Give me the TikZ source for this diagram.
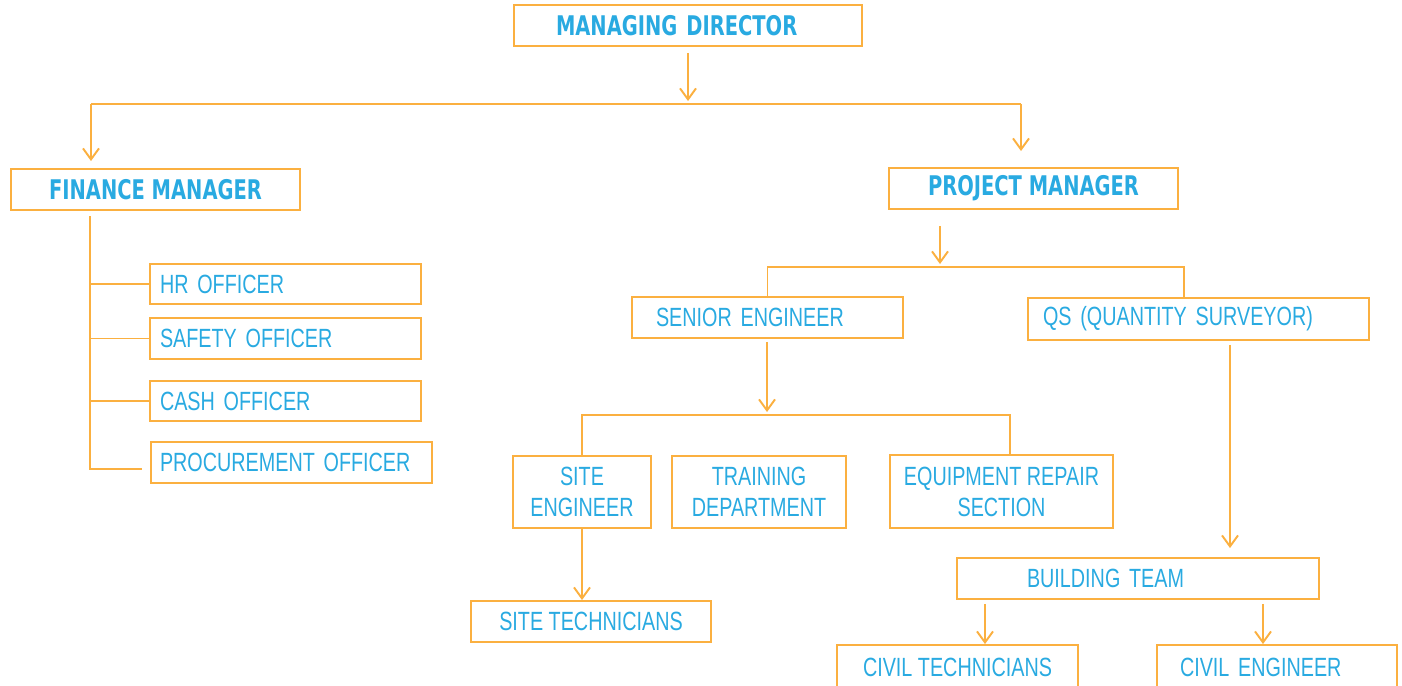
\documentclass[tikz,border=0pt]{standalone}
\usepackage{fontspec}
\setmainfont[FakeStretch=0.75]{Liberation Sans}
\newfontfamily\headfont[FakeStretch=0.72]{DejaVu Sans}
\usetikzlibrary{arrows.meta}
\definecolor{boxorange}{RGB}{251,176,64}
\definecolor{txtblue}{RGB}{41,170,225}
\hyphenpenalty=10000

\begin{document}
\begin{tikzpicture}[x=0.1mm, y=-0.1mm, line width=0.55pt, color=boxorange,
    box/.style={draw=boxorange, text=txtblue, inner sep=0pt, minimum height=4.1mm,
      font=\fontsize{7.5}{8.8}\selectfont},
    head/.style={box, font=\headfont\bfseries\fontsize{7.7}{9}\selectfont},
    officer/.style={box, minimum width=27.1mm, text width=25.1mm, inner xsep=1mm, align=left},
    arr/.style={-{Straight Barb[length=1.1mm, width=1.6mm]}}]
    \clip (0,0) rectangle (1402,685);

    \node[head, minimum width=34.8mm, text width=26.4mm, inner xsep=4.2mm, align=left] (md) at (688,25.5) {MANAGING\ DIRECTOR};
    \node[head, minimum width=28.9mm] (fm) at (155.5,189.5) {FINANCE\ MANAGER};
    \node[head, minimum width=28.9mm] (pm) at (1033.5,188.5) {PROJECT MANAGER};

    \node[officer, minimum height=4.0mm] (hr) at (285.5,284) {HR OFFICER};
    \node[officer] (safety) at (285.5,338.5) {SAFETY\ OFFICER};
    \node[officer, minimum height=4.0mm] (cash) at (285.5,401) {CASH OFFICER};
    \node[officer, minimum width=28.1mm, text width=26.3mm, inner xsep=0.9mm] (proc) at (291.5,462.5) {PROCUREMENT\ OFFICER};

    \node[box, minimum width=27.1mm, text width=22.3mm, inner xsep=2.4mm, align=left] (se) at (767.5,317.5) {SENIOR\ ENGINEER};
    \node[box, minimum width=34.1mm, minimum height=4.2mm, text width=31.1mm, inner xsep=1.5mm, align=left] (qs) at (1198.5,319) {QS (QUANTITY SURVEYOR)};

    \node[box, minimum width=13.8mm, minimum height=7.2mm, align=center] (site) at (582,492) {SITE\\ENGINEER};
    \node[box, minimum width=17.4mm, minimum height=7.2mm, align=center] (train) at (759,492) {TRAINING\\DEPARTMENT};
    \node[box, minimum width=22.3mm, minimum height=7.3mm, align=center] (ers) at (1001.5,491.5) {EQUIPMENT REPAIR\\SECTION};
    \node[box, minimum width=24mm] (tech) at (591,621.5) {SITE\ TECHNICIANS};

    \node[box, minimum width=36.2mm, text width=22.2mm, inner xsep=7mm, align=left] (bt) at (1138,578.5) {BUILDING TEAM};
    \node[box, minimum width=24.1mm, minimum height=4.5mm] (ct) at (957.5,667.5) {CIVIL\ TECHNICIANS};
    \node[box, minimum width=24mm, minimum height=4.5mm, text width=19.4mm, inner xsep=2.3mm, align=left] (ce) at (1277,667.5) {CIVIL ENGINEER};

    \coordinate (mdbus) at (688,104);
    \coordinate (fmin) at (91,104);
    \coordinate (pmin) at (1021,104);
    \draw[arr, shorten <=0.6mm, shorten >=0.3mm] (md) -- (mdbus);
    \draw (fmin) -- (pmin);
    \draw[arr, shorten >=0.7mm] (fmin) -- (fmin |- fm.north);
    \draw[arr, shorten >=1.6mm] (pmin) -- (pmin |- pm.north);

    \coordinate (fmtrunk) at (90,216);
    \draw (fmtrunk) |- ([xshift=-0.8mm, yshift=-0.65mm]proc.west);
    \foreach \n in {hr, safety, cash}
        \draw (fmtrunk |- \n.west) -- (\n.west);

    \coordinate (pmbus) at (940,267);
    \draw[arr, shorten <=1.6mm, shorten >=0.3mm] (pm.south -| pmbus) -- (pmbus);
    \draw (se.north) |- (pmbus) -| ([xshift=-1.45mm]qs.north);

    \coordinate (sebus) at (767,415);
    \draw[arr, shorten <=0.3mm, shorten >=0.3mm] (se.south -| sebus) -- (sebus);
    \draw (site.north) |- (sebus) -| ([xshift=0.85mm]ers.north);
    \draw[arr] (site) -- (site.south |- tech.north);

    \draw[arr, shorten <=0.4mm, shorten >=0.9mm] ([xshift=3.15mm]qs.south) -- ([xshift=3.15mm]qs.south |- bt.north);
    \draw[arr, shorten <=0.4mm] ([xshift=2.75mm]ct.north |- bt.south) -- ([xshift=2.75mm]ct.north);
    \draw[arr, shorten <=0.4mm] ([xshift=-1.4mm]ce.north |- bt.south) -- ([xshift=-1.4mm]ce.north);
\end{tikzpicture}
\end{document}
